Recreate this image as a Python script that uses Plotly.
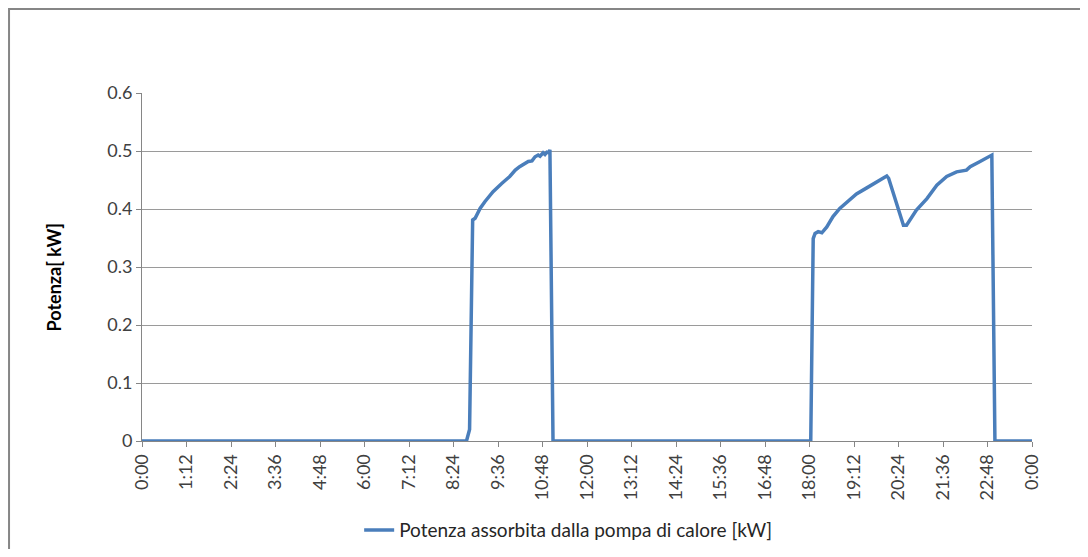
import plotly.graph_objects as go

# time in minutes from midnight, absorbed power in kW
time_min = [0, 525, 530, 535, 539, 547, 555, 568, 582, 590, 595, 604, 611, 625, 631, 636, 641, 644,
            649, 652, 655, 658, 660, 665,
            1082, 1086, 1089, 1094, 1100, 1108, 1118, 1129, 1143, 1156, 1172, 1189, 1205, 1208,
            1221, 1232, 1237, 1253, 1270, 1286, 1302, 1318, 1334, 1340, 1356, 1375, 1380, 1440]
power_kw = [0, 0, 0.02, 0.381, 0.384, 0.401, 0.413, 0.430, 0.444, 0.451, 0.456, 0.467, 0.473, 0.482,
            0.483, 0.490, 0.493, 0.491, 0.497, 0.494, 0.498, 0.497, 0.502, 0,
            0, 0.349, 0.358, 0.361, 0.359, 0.369, 0.387, 0.401, 0.413, 0.426, 0.436, 0.447, 0.457,
            0.453, 0.410, 0.372, 0.372, 0.398, 0.418, 0.441, 0.456, 0.464, 0.467, 0.473, 0.482,
            0.493, 0, 0]

tick_vals = [i * 72 for i in range(21)]
tick_text = ["0:00", "1:12", "2:24", "3:36", "4:48", "6:00", "7:12", "8:24", "9:36", "10:48",
             "12:00", "13:12", "14:24", "15:36", "16:48", "18:00", "19:12", "20:24", "21:36",
             "22:48", "0:00"]

series_name = "Potenza assorbita dalla pompa di calore [kW]"
y_title = "Potenza[ kW]"

fig = go.Figure()
fig.add_trace(go.Scatter(x=time_min, y=power_kw, mode="lines", name=series_name,
                         line=dict(color="#4A7EBB", width=3.5)))

font = "Lato, Carlito, Calibri, sans-serif"
fig.update_layout(
    width=1072, height=541, autosize=False,
    margin=dict(l=134, r=48, t=85, b=108, autoexpand=False),
    paper_bgcolor="white", plot_bgcolor="white",
    font=dict(family=font, size=18, color="#404040"),
    showlegend=True,
    legend=dict(orientation="h", x=0.244, xanchor="left", y=-0.256, yanchor="middle",
                font=dict(family=font, size=19, color="#262626"), bgcolor="rgba(0,0,0,0)"),
    xaxis=dict(range=[0, 1440], tickvals=tick_vals, ticktext=tick_text, tickangle=-90,
               showgrid=False, zeroline=False, showline=True, linecolor="#868686", linewidth=1,
               ticks="outside", ticklen=5, tickcolor="#868686",
               tickfont=dict(family=font, size=18, color="#404040")),
    yaxis=dict(range=[0, 0.6], dtick=0.1, tickformat=".1~f", showgrid=True, gridcolor="#9a9a9a",
               gridwidth=1, zeroline=False, showline=True, linecolor="#868686", linewidth=1,
               ticks="outside", ticklen=5, tickcolor="#868686",
               tickfont=dict(family=font, size=18, color="#404040")),
    annotations=[dict(text="<b>" + y_title + "</b>", xref="paper", yref="paper",
                      x=-0.0985, y=0.471, xanchor="center", yanchor="middle",
                      textangle=-90, showarrow=False,
                      font=dict(family=font, size=18, color="#000000"))],
    shapes=[dict(type="rect", xref="paper", yref="paper", x0=-0.1494, x1=1.3, y0=-0.6, y1=1.2414,
                 line=dict(color="#868686", width=2), layer="below")],
)

fig.write_html("out.html")
